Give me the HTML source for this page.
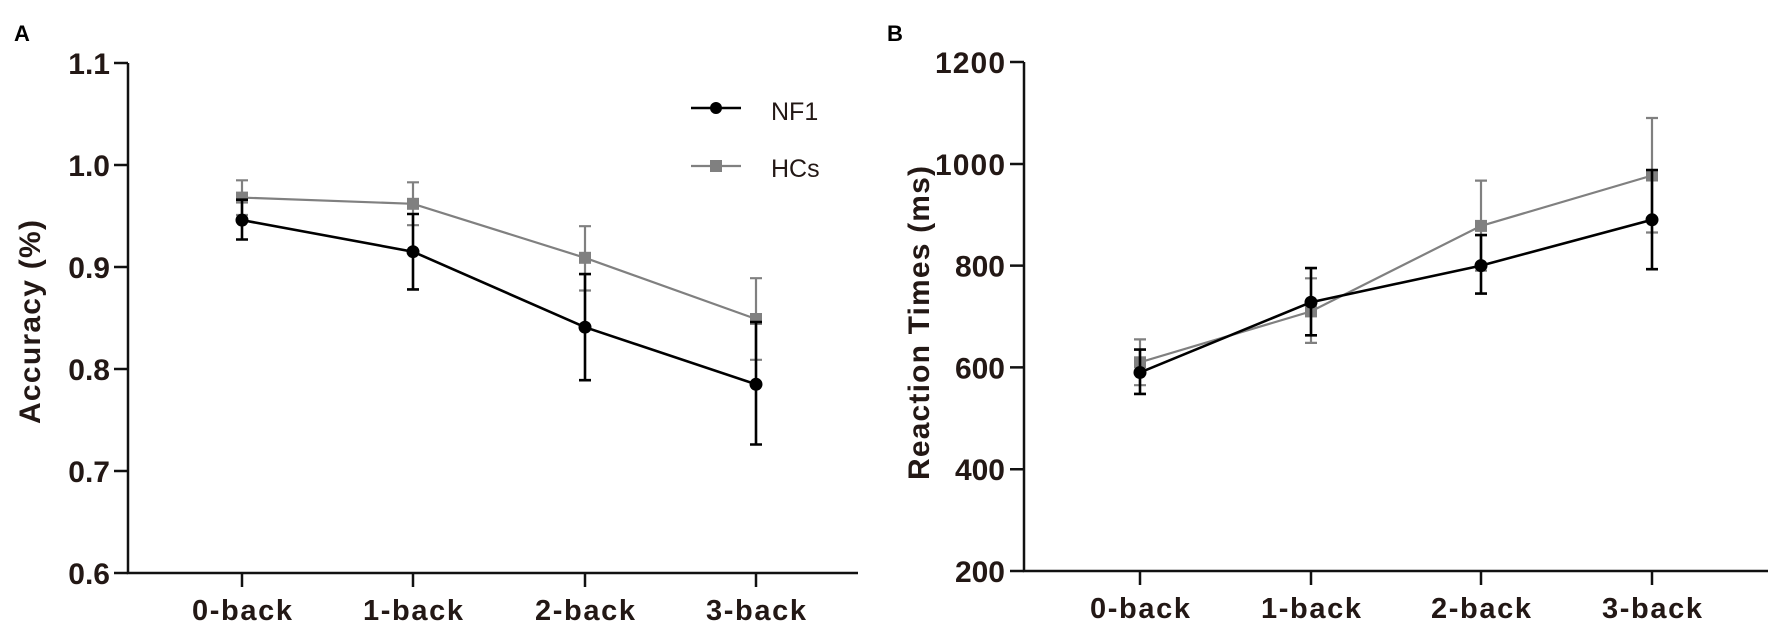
<!DOCTYPE html>
<html><head><meta charset="utf-8"><style>
html,body{margin:0;padding:0;background:#fff;}
svg{display:block;font-family:"Liberation Sans",Arial,sans-serif;}
.t{font-weight:bold;font-size:30px;fill:#231815;}
.x{font-weight:bold;font-size:29px;fill:#231815;text-anchor:middle;}
</style></head><body>
<svg width="1772" height="627" viewBox="0 0 1772 627">
<!-- Panel A -->
<text x="14" y="41" font-weight="bold" font-size="22">A</text>
<g stroke="#111" stroke-width="2.5" fill="none">
<path d="M128 63 V573 H858"/>
<path d="M114 63H128M114 165H128M114 267H128M114 369H128M114 471H128M114 573H128"/>
<path d="M242 573V587M413 573V587M585 573V587M756 573V587"/>
</g>
<g class="t" text-anchor="end">
<text x="110" y="74">1.1</text><text x="110" y="176">1.0</text><text x="110" y="278">0.9</text>
<text x="110" y="380">0.8</text><text x="110" y="482">0.7</text><text x="110" y="584">0.6</text>
</g>
<g class="x">
<text x="242" y="620" textLength="100">0-back</text><text x="413" y="620" textLength="100">1-back</text>
<text x="585" y="620" textLength="100">2-back</text><text x="756" y="620" textLength="100">3-back</text>
</g>
<text class="t" transform="translate(40,322) rotate(-90)" text-anchor="middle" textLength="204">Accuracy (%)</text>
<!-- HCs A -->
<g stroke="#808080" stroke-width="2.2" fill="none">
<path d="M242 180.3V215M236 180.3H248M236 215H248"/>
<path d="M413 182.3V225.2M407 182.3H419M407 225.2H419"/>
<path d="M585 226.2V290.5M579 226.2H591M579 290.5H591"/>
<path d="M756 278.2V359.8M750 278.2H762M750 359.8H762"/>
<polyline points="242,197.6 413,203.8 585,257.8 756,319"/>
</g>
<g fill="#808080"><rect x="236" y="191.6" width="12" height="12"/><rect x="407" y="197.8" width="12" height="12"/><rect x="579" y="251.8" width="12" height="12"/><rect x="750" y="313" width="12" height="12"/></g>
<!-- NF1 A -->
<g stroke="#000" stroke-width="2.6" fill="none">
<path d="M242 199.7V239.5M236 199.7H248M236 239.5H248"/>
<path d="M413 214V289.4M407 214H419M407 289.4H419"/>
<path d="M585 274.1V380.2M579 274.1H591M579 380.2H591"/>
<path d="M756 322.1V444.5M750 322.1H762M750 444.5H762"/>
<polyline points="242,220.1 413,251.7 585,327.2 756,384.3"/>
</g>
<g fill="#000"><circle cx="242" cy="220.1" r="6.5"/><circle cx="413" cy="251.7" r="6.5"/><circle cx="585" cy="327.2" r="6.5"/><circle cx="756" cy="384.3" r="6.5"/></g>
<!-- legend -->
<path d="M691 108H741" stroke="#000" stroke-width="2.6"/><circle cx="716" cy="108" r="6" fill="#000"/>
<path d="M691 166H741" stroke="#808080" stroke-width="2.2"/><rect x="710" y="160" width="12" height="12" fill="#808080"/>
<text x="771" y="120" font-size="25" fill="#231815">NF1</text>
<text x="771" y="177" font-size="25" fill="#231815">HCs</text>

<!-- Panel B -->
<text x="887" y="41" font-weight="bold" font-size="22">B</text>
<g stroke="#111" stroke-width="2.5" fill="none">
<path d="M1024 62 V571 H1768"/>
<path d="M1010 62H1024M1010 164H1024M1010 265.6H1024M1010 367.4H1024M1010 469.2H1024M1010 571H1024"/>
<path d="M1140 571V585M1311 571V585M1481 571V585M1652 571V585"/>
</g>
<g class="t" text-anchor="end">
<text x="1005" y="73" textLength="70">1200</text><text x="1005" y="175" textLength="70">1000</text><text x="1005" y="276.6">800</text>
<text x="1005" y="378.4">600</text><text x="1005" y="480.2">400</text><text x="1005" y="582">200</text>
</g>
<g class="x">
<text x="1140" y="618" textLength="100">0-back</text><text x="1311" y="618" textLength="100">1-back</text>
<text x="1481" y="618" textLength="100">2-back</text><text x="1652" y="618" textLength="100">3-back</text>
</g>
<text class="t" transform="translate(929,323) rotate(-90)" text-anchor="middle" textLength="314">Reaction Times (ms)</text>
<!-- HCs B -->
<g stroke="#808080" stroke-width="2.2" fill="none">
<path d="M1140 339.4V385.2M1134 339.4H1146M1134 385.2H1146"/>
<path d="M1311 278.3V342.9M1305 278.3H1317M1305 342.9H1317"/>
<path d="M1481 180.6V270.7M1475 180.6H1487M1475 270.7H1487"/>
<path d="M1652 118V232.5M1646 118H1658M1646 232.5H1658"/>
<polyline points="1140,362.3 1311,311.4 1481,225.9 1652,175.5"/>
</g>
<g fill="#808080"><rect x="1134" y="356.3" width="12" height="12"/><rect x="1305" y="305.4" width="12" height="12"/><rect x="1475" y="219.9" width="12" height="12"/><rect x="1646" y="169.5" width="12" height="12"/></g>
<!-- NF1 B -->
<g stroke="#000" stroke-width="2.6" fill="none">
<path d="M1140 349.6V393.9M1134 349.6H1146M1134 393.9H1146"/>
<path d="M1311 268.1V335.3M1305 268.1H1317M1305 335.3H1317"/>
<path d="M1481 235.1V293.6M1475 235.1H1487M1475 293.6H1487"/>
<path d="M1652 170V269.2M1646 170H1658M1646 269.2H1658"/>
<polyline points="1140,372.5 1311,302.2 1481,265.6 1652,219.8"/>
</g>
<g fill="#000"><circle cx="1140" cy="372.5" r="6.5"/><circle cx="1311" cy="302.2" r="6.5"/><circle cx="1481" cy="265.6" r="6.5"/><circle cx="1652" cy="219.8" r="6.5"/></g>
</svg>
</body></html>
